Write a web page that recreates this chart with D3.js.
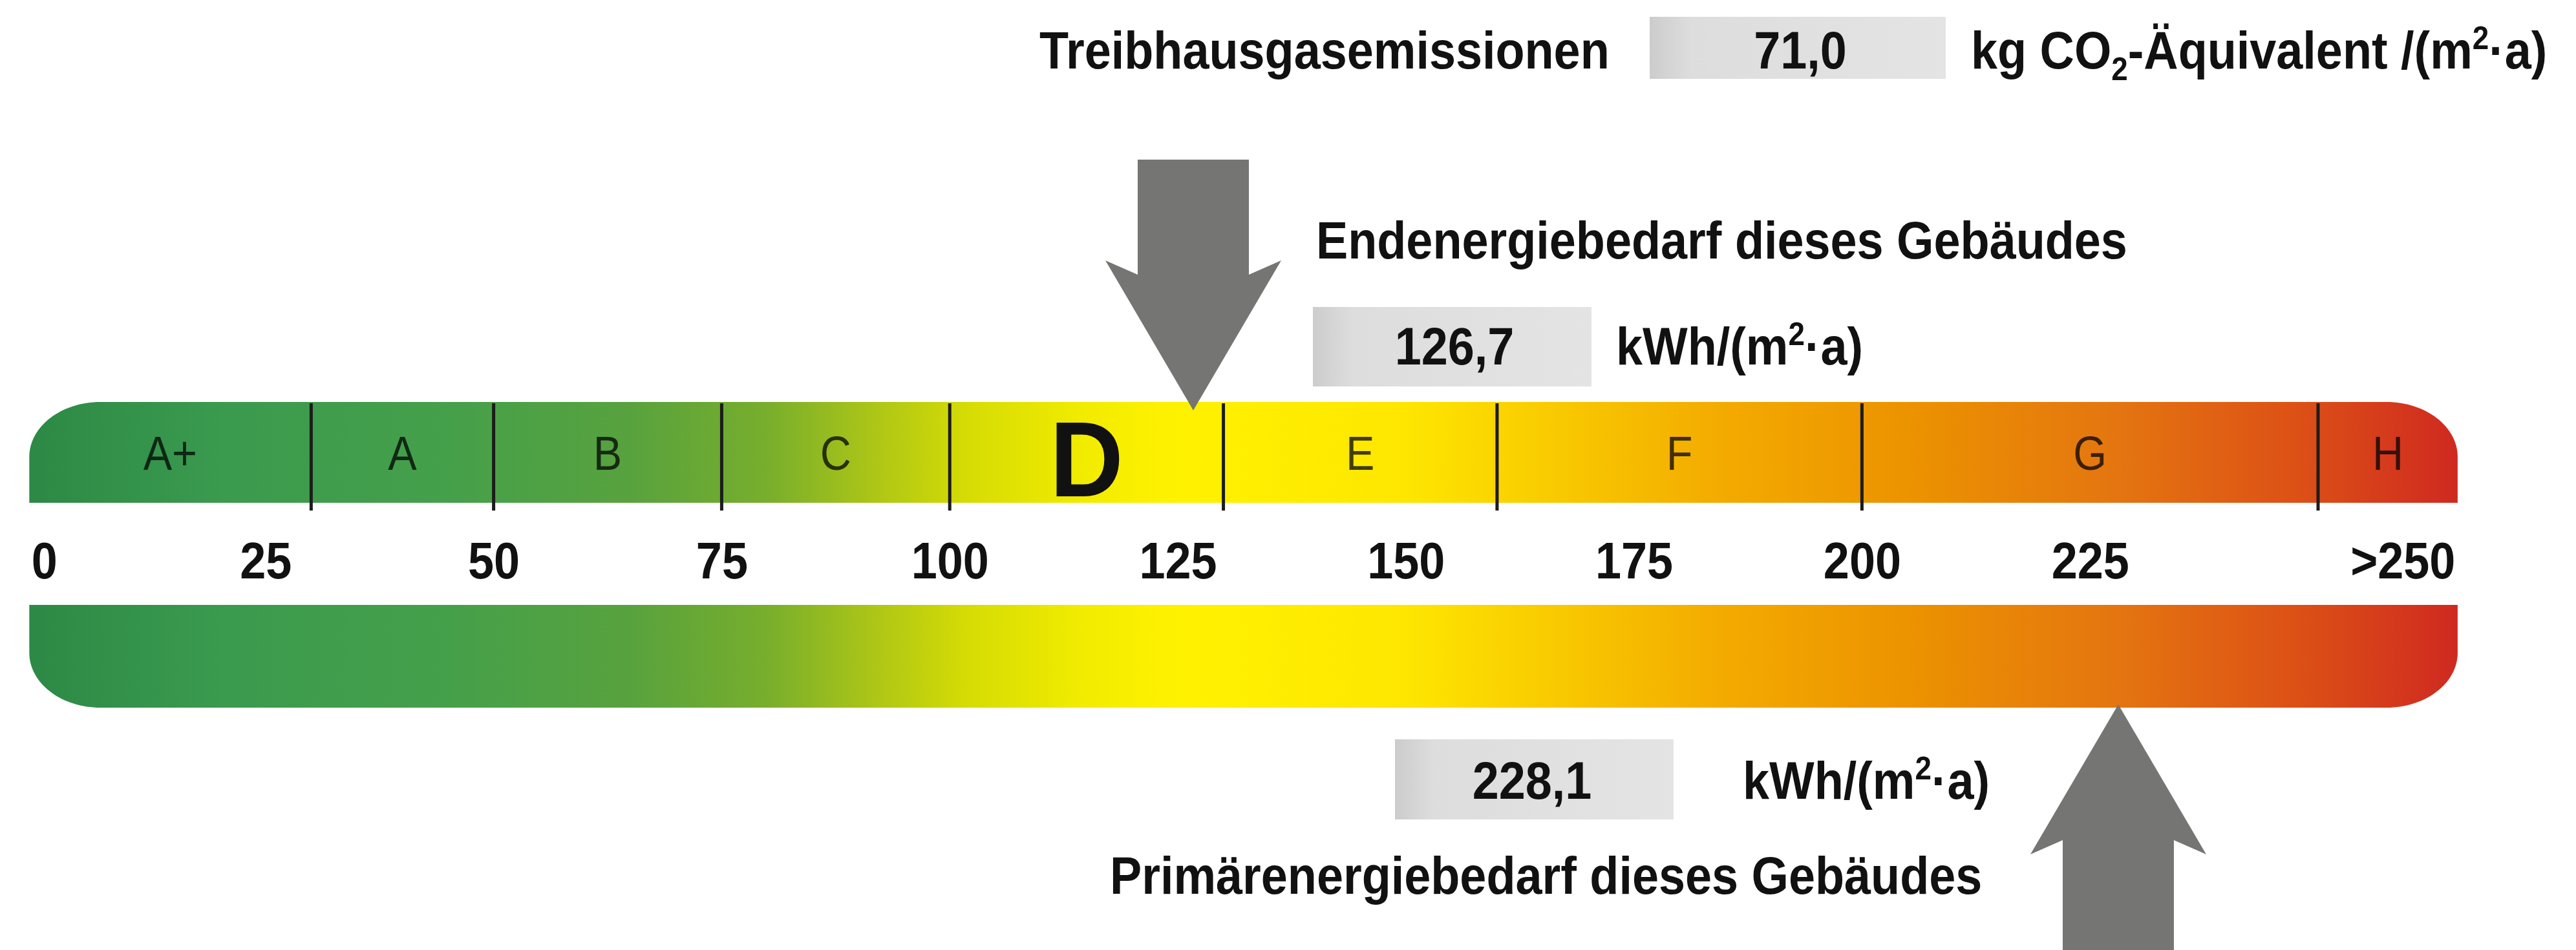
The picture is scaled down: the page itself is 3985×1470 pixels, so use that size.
<!DOCTYPE html>
<html>
<head>
<meta charset="utf-8">
<script src="https://d3js.org/d3.v7.min.js"></script>
<style>
	body{
		margin: 0;
		background: #fff;
	}
	svg text{
		font-family: "Liberation Sans", Arial, Helvetica, sans-serif;
	}
</style>
</head>
<body>
<div id="container"></div>

<script type="text/javascript">

// energy classes (kWh/(m²·a)), upper limits of A+ .. G
var classes = ["A+", "A", "B", "C", "D", "E", "F", "G", "H"];
var classBounds = [30, 50, 75, 100, 130, 160, 200, 250];
var activeClass = "D";

// scale labels under the top bar
var tickValues = [0, 25, 50, 75, 100, 125, 150, 175, 200, 225, 250];
var tickLabels = ["0", "25", "50", "75", "100", "125", "150", "175", "200", "225", ">250"];
var scaleEnds = [-0.9, 265.3];

// colour ramp of the bar
var rampValues = [0, 20, 45, 65, 80, 92, 102, 115, 125, 150, 165, 185, 205, 228, 248, 265];
var rampColors = ["#2d8a46", "#3a9a4e", "#45a04a", "#58a23e", "#78ae2c", "#aec616", "#d6dc04", "#f2ec00",
                  "#fff200", "#fee600", "#f9cc00", "#f3aa00", "#ec9300", "#e47510", "#dc5016", "#cf2a20"];

// values of this building
var emissions = 71.0;
var finalEnergy = 126.7;
var primaryEnergy = 228.1;

var captions = ["Treibhausgasemissionen", "Endenergiebedarf dieses Gebäudes", "Primärenergiebedarf dieses Gebäudes"];
var units = ["kg CO_{2}-Äquivalent /(m^{2}·a)", "kWh/(m^{2}·a)", "kWh/(m^{2}·a)"];

var de = d3.formatLocale({decimal: ",", thousands: ".", grouping: [3], currency: ["", " €"]});
var fmt = de.format(".1f");

var W = 3985, H = 1470;
var squeeze = 0.9;   // type in the original is a condensed grotesk
var ink = "#111";

var svg = d3.select("#container")
		.append("svg")
		.attr("width", W)
		.attr("height", H);

var x = d3.scaleLinear()
		.domain([0, 250])
		.range([58, 3586]);

var colorAt = d3.scaleLinear()
		.domain(rampValues)
		.range(rampColors)
		.clamp(true);

var defs = svg.append("defs");

var off = d3.scaleLinear().domain(scaleEnds).range([0, 1]);
defs.append("linearGradient")
	.attr("id", "ramp")
	.attr("gradientUnits", "userSpaceOnUse")
	.attr("x1", x(scaleEnds[0])).attr("x2", x(scaleEnds[1]))
	.attr("y1", 0).attr("y2", 0)
  .selectAll("stop")
	.data(rampValues)
	.join("stop")
	.attr("offset", function(d){ return Math.max(0, Math.min(1, off(d))); })
	.attr("stop-color", function(d, i){ return rampColors[i]; });

var boxGrad = defs.append("linearGradient").attr("id", "boxGrad");
boxGrad.append("stop").attr("offset", 0).attr("stop-color", "#cccccc");
boxGrad.append("stop").attr("offset", 0.14).attr("stop-color", "#dddddd");
boxGrad.append("stop").attr("offset", 1).attr("stop-color", "#e4e4e4");

// bar with two rounded outer corners (top or bottom)
function barPath(x0, x1, y0, y1, roundTop){
	var rx = 110, ry = 85, k = 0.4477;
	var p = d3.path();
	if (roundTop){
		p.moveTo(x0, y1);
		p.lineTo(x0, y0 + ry);
		p.bezierCurveTo(x0, y0 + ry*k, x0 + rx*k, y0, x0 + rx, y0);
		p.lineTo(x1 - rx, y0);
		p.bezierCurveTo(x1 - rx*k, y0, x1, y0 + ry*k, x1, y0 + ry);
		p.lineTo(x1, y1);
	} else {
		p.moveTo(x0, y0);
		p.lineTo(x1, y0);
		p.lineTo(x1, y1 - ry);
		p.bezierCurveTo(x1, y1 - ry*k, x1 - rx*k, y1, x1 - rx, y1);
		p.lineTo(x0 + rx, y1);
		p.bezierCurveTo(x0 + rx*k, y1, x0, y1 - ry*k, x0, y1 - ry);
	}
	p.closePath();
	return p.toString();
}

var bx0 = x(scaleEnds[0]), bx1 = x(scaleEnds[1]);
var topBar = {y0: 622, y1: 778};
var lowBar = {y0: 936, y1: 1095};

svg.append("path")
	.attr("d", barPath(bx0, bx1, topBar.y0, topBar.y1, true))
	.attr("fill", "url(#ramp)");

svg.append("path")
	.attr("d", barPath(bx0, bx1, lowBar.y0, lowBar.y1, false))
	.attr("fill", "url(#ramp)");

// class dividers
svg.selectAll("line.divider")
	.data(classBounds)
	.join("line")
	.attr("class", "divider")
	.attr("x1", function(d){ return x(d); })
	.attr("x2", function(d){ return x(d); })
	.attr("y1", topBar.y0 + 2)
	.attr("y2", topBar.y1 + 12)
	.attr("stroke", "#1c1c1c")
	.attr("stroke-width", 5);

// class letters
var classRanges = classes.map(function(c, i){
	return {
		name: c,
		from: i === 0 ? scaleEnds[0] : classBounds[i - 1],
		to: i < classBounds.length ? classBounds[i] : scaleEnds[1]
	};
});

svg.selectAll("text.cls")
	.data(classRanges)
	.join("text")
	.attr("class", "cls")
	.attr("transform", function(d){
		var mid = (d.from + d.to) / 2;
		var base = d.name === activeClass ? 768 : 727;
		var sx = d.name === activeClass ? 0.95 : squeeze;
		return "translate(" + x(mid) + "," + base + ") scale(" + sx + ",1)";
	})
	.attr("text-anchor", "middle")
	.attr("font-size", function(d){ return d.name === activeClass ? 166 : 74; })
	.attr("font-weight", function(d){ return d.name === activeClass ? "bold" : "normal"; })
	.attr("fill", function(d){
		if (d.name === activeClass) return ink;
		return d3.interpolateRgb(colorAt((d.from + d.to) / 2), "#000")(0.74);
	})
	.text(function(d){ return d.name; });

// scale numbers
var axis = d3.axisBottom(x)
	.tickValues(tickValues)
	.tickSize(0)
	.tickPadding(0)
	.tickFormat(function(d, i){ return tickLabels[i]; });

var ag = svg.append("g")
	.attr("transform", "translate(0,895)")
	.call(axis);

ag.select(".domain").remove();
ag.attr("font-size", 80)
	.attr("font-weight", "bold")
	.attr("font-family", "'Liberation Sans', Arial, sans-serif")
	.attr("color", ink);

var nT = tickValues.length;
ag.selectAll(".tick text")
	.attr("y", 0)
	.attr("dy", 0)
	.attr("text-anchor", function(d, i){ return i === 0 ? "start" : (i === nT - 1 ? "end" : "middle"); })
	.attr("x", function(d, i){
		if (i === 0) return (bx0 + 3 - x(d)) / squeeze;
		if (i === nT - 1) return (bx1 - 4 - x(d)) / squeeze;
		return 0;
	})
	.attr("transform", "scale(" + squeeze + ",1)");

// arrows
var arrows = [
	{value: finalEnergy, tip: 635, tail: 247},
	{value: primaryEnergy, tip: 1090, tail: 1490}
];

function arrowPath(cx, tip, tail){
	var s = tail < tip ? -1 : 1;
	var sw = 86, hw = 136, neck = 210, barb = 232;
	return d3.line()([
		[cx, tip],
		[cx + hw, tip + s*barb],
		[cx + sw, tip + s*neck],
		[cx + sw, tail],
		[cx - sw, tail],
		[cx - sw, tip + s*neck],
		[cx - hw, tip + s*barb]
	]) + "Z";
}

svg.selectAll("path.arrow")
	.data(arrows)
	.join("path")
	.attr("class", "arrow")
	.attr("d", function(d){ return arrowPath(x(d.value), d.tip, d.tail); })
	.attr("fill", "#757573");

// text helpers
function condensed(px, py, size, anchor){
	return svg.append("text")
		.attr("transform", "translate(" + px + "," + py + ") scale(" + squeeze + ",1)")
		.attr("text-anchor", anchor || "start")
		.attr("font-size", size)
		.attr("font-weight", "bold")
		.attr("fill", ink);
}

function rich(t, str, size){
	var re = /([_^])\{([^}]*)\}/g, last = 0, m, shift = 0;
	function add(s, kind){
		var target = kind === "_" ? size*0.22 : (kind === "^" ? -size*0.36 : 0);
		t.append("tspan")
			.attr("dy", target - shift)
			.attr("font-size", kind ? size*0.62 : size)
			.text(s);
		shift = target;
	}
	while ((m = re.exec(str))){
		if (m.index > last) add(str.slice(last, m.index));
		add(m[2], m[1]);
		last = re.lastIndex;
	}
	if (last < str.length) add(str.slice(last));
}

function valueBox(x0, x1, y0, y1){
	svg.append("rect")
		.attr("x", x0).attr("y", y0)
		.attr("width", x1 - x0).attr("height", y1 - y0)
		.attr("fill", "url(#boxGrad)");
}

var fs = 82;

// greenhouse gas row
condensed(1608, 106, fs).text(captions[0]);
valueBox(2552, 3010, 26, 122);
condensed(2785, 106, fs, "middle").text(fmt(emissions));
rich(condensed(3049, 106, fs), units[0], fs);

// final energy
condensed(2036, 400, fs).text(captions[1]);
valueBox(2031, 2462, 475, 598);
condensed(2250, 564, fs, "middle").text(fmt(finalEnergy));
rich(condensed(2500, 564, fs), units[1], fs);

// primary energy
valueBox(2158, 2589, 1144, 1268);
condensed(2370, 1236, fs, "middle").text(fmt(primaryEnergy));
rich(condensed(2696, 1236, fs), units[2], fs);
condensed(1717, 1383, fs).text(captions[2]);

</script>
</body>
</html>
